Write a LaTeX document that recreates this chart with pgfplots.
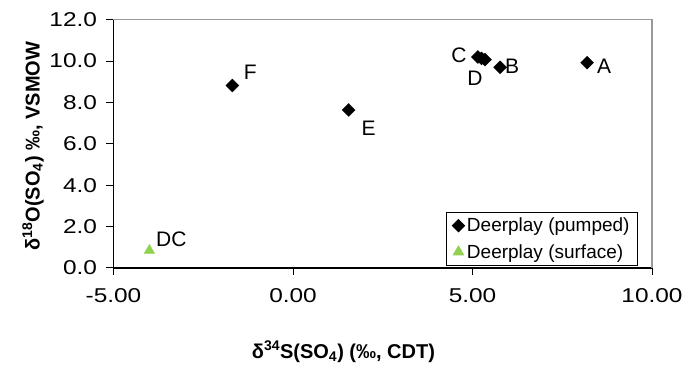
\documentclass[border=0pt]{standalone}
\usepackage{pgfplots}
\pgfplotsset{compat=1.18}
\usepackage{fontspec}
\setmainfont{Liberation Sans}
\newfontfamily\tickfont[FakeStretch=1.22]{Liberation Sans}
\definecolor{tri}{HTML}{92D050}
\newcommand{\fs}[1]{\fontsize{#1}{#1}\selectfont}
\begin{document}
\begin{tikzpicture}[x=1pt,y=1pt]
\path (0,0) rectangle (686,369);
\begin{axis}[
  at={(113.5pt,101pt)}, anchor=south west,
  scale only axis, width=538.5pt, height=248.3pt,
  xmin=-5, xmax=10, ymin=0, ymax=12,
  xtick={-5,0,5,10}, ytick={0,2,4,6,8,10,12},
  minor tick num=0,
  axis x line=bottom, axis y line=left,
  axis line style={-, black, line width=1.6pt},
  tick align=outside, major tick length=7pt,
  tick style={black, line width=1pt},
  /pgf/number format/assume math mode=true,
  xticklabel={\pgfmathprintnumber[fixed,fixed zerofill,precision=2]{\tick}},
  yticklabel={\pgfmathprintnumber[fixed,fixed zerofill,precision=1]{\tick}},
  ticklabel style={font=\tickfont\fs{20}},
  xticklabel style={yshift=-10pt},
  yticklabel style={xshift=-6pt},
  xlabel={\textbf{δ\textsuperscript{34}S(SO\textsubscript{4}) (‰, CDT)}},
  ylabel={\textbf{δ\textsuperscript{18}O(SO\textsubscript{4}) ‰, VSMOW}},
  xlabel style={at={(axis description cs:0.427,-0.338)}, anchor=center, font=\fs{20}},
  ylabel style={at={(axis description cs:-0.1495,0.491)}, anchor=center, font=\fs{20}},
  clip=false,
  legend style={at={(1,0)}, anchor=south east, xshift=-14pt, yshift=2pt,
    draw=black, line width=0.8pt, fill=white, font=\fs{19},
    inner xsep=6pt, inner ysep=4pt, row sep=7pt},
  legend cell align=left,
]
\draw[gray!80, line width=1.3pt] (rel axis cs:0,1) -- (rel axis cs:1,1) -- (rel axis cs:1,0);
\addplot[only marks, mark=square*, mark size=4.6pt, mark options={rotate=45, fill=black, draw=black, line width=0.3pt}]
  coordinates {(8.19,9.92) (5.77,9.70) (5.15,10.20) (5.25,10.13) (5.35,10.07) (1.55,7.64) (-1.69,8.82)};
\addlegendentry{Deerplay (pumped)}
\addplot[only marks, mark=triangle*, mark size=6pt, mark options={fill=tri, draw=tri}]
  coordinates {(-4.0,0.85)};
\addlegendentry{Deerplay (surface)}
\node[font=\fs{21}] at (axis cs:8.19,9.92) [xshift=17pt, yshift=-4pt] {A};
\node[font=\fs{21}] at (axis cs:5.77,9.70) [xshift=12pt, yshift=1pt] {B};
\node[font=\fs{21}] at (axis cs:5.15,10.20) [xshift=-19pt, yshift=2pt] {C};
\node[font=\fs{21}] at (axis cs:5.35,10.07) [xshift=-10pt, yshift=-19pt] {D};
\node[font=\fs{21}] at (axis cs:1.55,7.64) [xshift=20pt, yshift=-18pt] {E};
\node[font=\fs{21}] at (axis cs:-1.69,8.82) [xshift=18pt, yshift=13pt] {F};
\node[font=\fs{21}] at (axis cs:-4.0,0.85) [xshift=22pt, yshift=11pt] {DC};
\end{axis}
\end{tikzpicture}
\end{document}
